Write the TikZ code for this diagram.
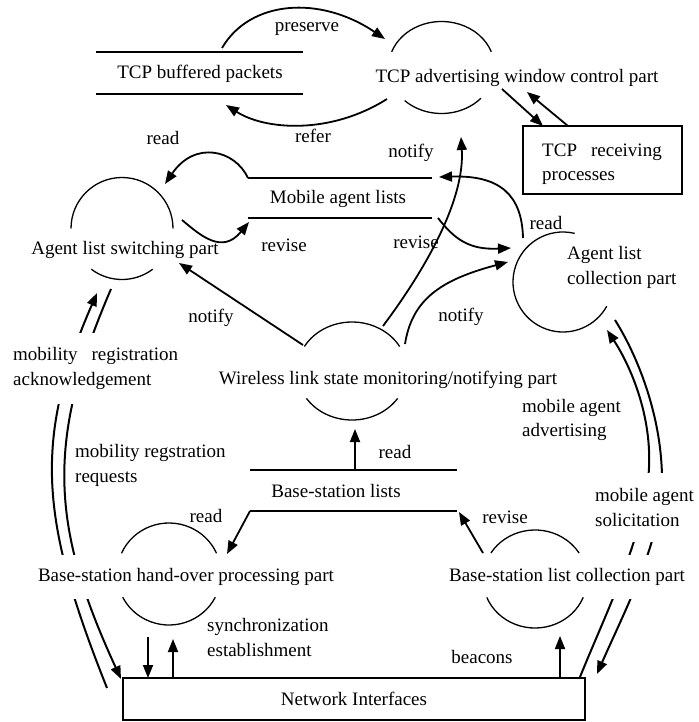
\documentclass[tikz,border=0pt]{standalone}
\usepackage{fontspec}
\setmainfont{Liberation Serif}
\usetikzlibrary{arrows.meta}
\begin{document}
\begin{tikzpicture}[x=1pt,y=-1pt,
  every node/.style={font=\fontsize{19}{24.5}\selectfont, inner sep=0pt},
  shapeline/.style={line width=1.3pt},
  flow/.style={line width=1.8pt, -{Triangle[length=13pt,width=10pt]}},
  dflow/.style={line width=2pt, -{Triangle[length=13pt,width=10pt]}},
  whitebox/.style={fill=white},
]
\useasboundingbox (0,0) rectangle (698,722);

% ---------- circle centres ----------
\coordinate (cAdv) at (441.5,67.5);
\coordinate (cSw)  at (122,228.5);
\coordinate (cCol) at (563,282);
\coordinate (cWl)  at (352,371);
\coordinate (cHo)  at (169,574);
\coordinate (cBc)  at (535,579);

% ---------- connector end points ----------
\coordinate (pA) at (222,48);   \coordinate (pB) at (385,39);
\coordinate (rA) at (387,99);   \coordinate (rB) at (226,105);
\coordinate (advR1) at (502,89); \coordinate (rpT1) at (543,126);
\coordinate (rpT2) at (568,126); \coordinate (advR2) at (527,92);
\coordinate (ml1) at (248,178); \coordinate (sw1) at (165,184);
\coordinate (sw2) at (182,220); \coordinate (ml2) at (249,222);
\coordinate (col1) at (523,238); \coordinate (ml3) at (439,177);
\coordinate (ml4) at (438,218); \coordinate (col2) at (511,248);
\coordinate (wl1) at (383,326); \coordinate (adv3) at (461,137);
\coordinate (wl2) at (405,344); \coordinate (col3) at (508,262);
\coordinate (wl3) at (303,345); \coordinate (sw3) at (179,263);
\coordinate (bl1) at (355,470); \coordinate (wl4) at (355,429);
\coordinate (bl2) at (250,511); \coordinate (ho1) at (227,554);
\coordinate (bc1) at (483,553); \coordinate (bl3) at (459,512);
\coordinate (ho2) at (148,637); \coordinate (ni1) at (148,678);
\coordinate (ni2) at (173,678); \coordinate (ho3) at (173,639);
\coordinate (ni3) at (560,678); \coordinate (bc2) at (560,636);
\coordinate (niL1) at (107,688); \coordinate (sw4) at (97,293);
\coordinate (sw5) at (111,289); \coordinate (niL2) at (121,679);
\coordinate (ni4) at (580,677); \coordinate (col4) at (607,330);
\coordinate (col5) at (615,320); \coordinate (ni5) at (597,674);

% ---------- double flows (drawn first, labels cover them) ----------
\draw[dflow] (niL1) .. controls (40,520) and (33,440) .. (sw4);
\draw[dflow] (sw5) .. controls (46,440) and (50,525) .. (niL2);
\draw[dflow] (ni4) .. controls (605,615) and (640,545) .. (648,480)
                   .. controls (655,420) and (630,365) .. (col4);
\draw[dflow] (col5) .. controls (640,360) and (662,420) .. (662,480)
                    .. controls (662,540) and (625,610) .. (ni5);

% ---------- labels with white backing ----------
\node[whitebox, anchor=west, align=left, inner xsep=2pt, inner ysep=15pt] (lack) at (11,368.5)
  {mobility\hspace{14pt}registration\\acknowledgement};
\node[whitebox, anchor=west, align=left, inner xsep=2pt, inner ysep=16pt] (lsol) at (593,507.5)
  {mobile agent\\solicitation};
\node[whitebox, minimum height=44pt, inner xsep=2pt] (tho) at (186,577)
  {Base-station hand-over processing part};
\node[whitebox, minimum height=44pt, inner xsep=2pt] (tbc) at (567,577)
  {Base-station list collection part};

% ---------- process arcs ----------
\draw[shapeline] (cAdv) ++(200:53 and 46) arc[start angle=200,end angle=340,x radius=53,y radius=46];
\draw[shapeline] (cAdv) ++(42:53 and 46) arc[start angle=42,end angle=134,x radius=53,y radius=46];
\draw[shapeline] (cSw) ++(180:51 and 51) arc[start angle=180,end angle=360,x radius=51,y radius=51];
\draw[shapeline] (cSw) ++(53:51 and 51) arc[start angle=53,end angle=127,x radius=51,y radius=51];
\draw[shapeline] (cCol) ++(283.5:50 and 50) arc[start angle=283.5,end angle=29,x radius=50,y radius=50];
\draw[shapeline] (cWl) ++(210:55 and 49) arc[start angle=210,end angle=330,x radius=55,y radius=49];
\draw[shapeline] (cWl) ++(34:55 and 49) arc[start angle=34,end angle=146,x radius=55,y radius=49];
\draw[shapeline] (cHo) ++(204:52 and 51) arc[start angle=204,end angle=336,x radius=52,y radius=51];
\draw[shapeline] (cHo) ++(27:52 and 51) arc[start angle=27,end angle=153,x radius=52,y radius=51];
\draw[shapeline] (cBc) ++(212:52 and 49) arc[start angle=212,end angle=328,x radius=52,y radius=49];
\draw[shapeline] (cBc) ++(22:52 and 49) arc[start angle=22,end angle=158,x radius=52,y radius=49];

% ---------- data stores ----------
\draw[shapeline] (96,52) -- (303,52) (96,94) -- (303,94);
\draw[shapeline] (248,178) -- (432,178) (248,218) -- (432,218);
\draw[shapeline] (250,470) -- (457,470) (250,511) -- (457,511);

% ---------- text of nodes ----------
\node (tbp) at (200,74) {TCP buffered packets};
\node (tadv) at (517,78) {TCP advertising window control part};
\node[draw, shapeline, minimum width=159pt, minimum height=68pt] (rp) at (602.5,160) {};
\node[align=left] (rpt) at (602,164) {TCP\hspace{14pt}receiving\\processes};
\node (tml) at (338,199) {Mobile agent lists};
\node (tsw) at (125,250) {Agent list switching part};
\node[anchor=west, align=left] (tcol) at (567,267.5) {Agent list\\collection part};
\node (twl) at (388,380) {Wireless link state monitoring/notifying part};
\node (tbl) at (336,491) {Base-station lists};
\node[draw, shapeline, minimum width=462pt, minimum height=42pt] (ni) at (354,699) {Network Interfaces};

% ---------- plain labels ----------
\node (lpres) at (307,29) {preserve};
\node (lref) at (313,136) {refer};
\node (lread1) at (163,138) {read};
\node (lnot1) at (411,153) {notify};
\node (lrev1) at (284,245) {revise};
\node (lrev2) at (416,242) {revise};
\node (lread2) at (546,223) {read};
\node (lnot2) at (211,318) {notify};
\node (lnot3) at (461,317) {notify};
\node[anchor=west, align=left] (lreq) at (75,465.5) {mobility regstration\\requests};
\node (lread3) at (395,452) {read};
\node[anchor=west, align=left] (ladv) at (522,420) {mobile agent\\advertising};
\node (lread4) at (206,516) {read};
\node (lrev3) at (505,517) {revise};
\node[anchor=west, align=left] (lsync) at (207,637.5) {synchronization\\establishment};
\node (lbea) at (482,657) {beacons};

% ---------- flows ----------
\draw[flow] (pA) .. controls (250,0) and (320,-5) .. (pB);
\draw[flow] (rA) .. controls (330,135) and (265,130) .. (rB);
\draw[flow] (advR1) -- (rpT1);
\draw[flow] (rpT2) -- (advR2);
\draw[flow] (ml1) .. controls (235,150) and (195,140) .. (sw1);
\draw[flow] (sw2) .. controls (200,235) and (222,255) .. (ml2);
\draw[flow] (col1) .. controls (522,195) and (500,175) .. (ml3);
\draw[flow] (ml4) .. controls (455,240) and (470,250) .. (col2);
\draw[flow] (wl1) .. controls (425,270) and (465,200) .. (adv3);
\draw[flow] (wl2) .. controls (412,300) and (440,280) .. (col3);
\draw[flow] (wl3) -- (sw3);
\draw[flow] (bl1) -- (wl4);
\draw[flow] (bl2) -- (ho1);
\draw[flow] (bc1) -- (bl3);
\draw[flow] (ho2) -- (ni1);
\draw[flow] (ni2) -- (ho3);
\draw[flow] (ni3) -- (bc2);
\end{tikzpicture}
\end{document}
